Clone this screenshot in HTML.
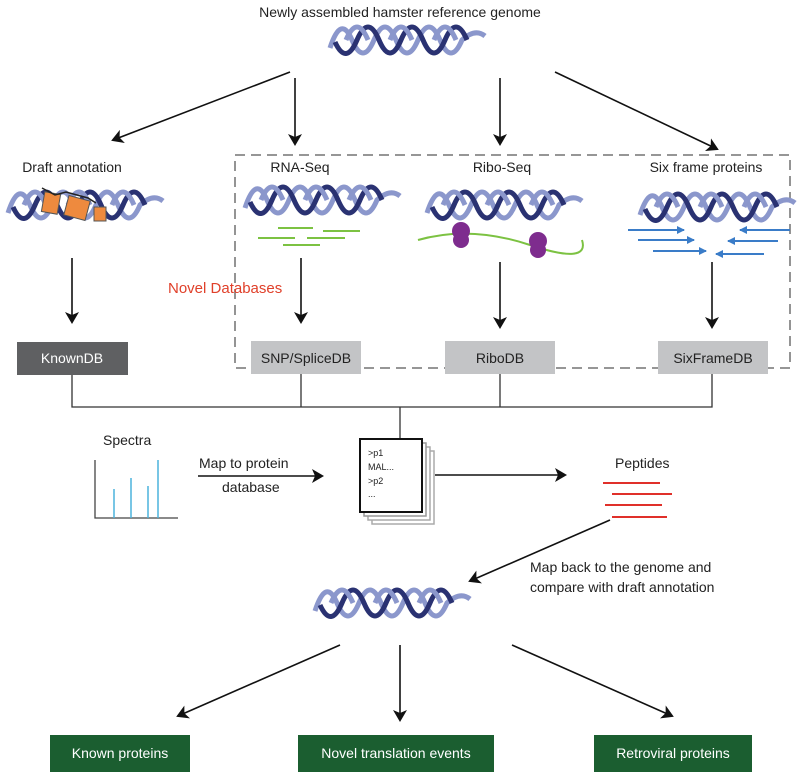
<!DOCTYPE html>
<html><head><meta charset="utf-8"><style>
body{margin:0;background:#fff;}
svg text{font-family:"Liberation Sans",sans-serif;}
</style></head><body>
<svg width="800" height="774" viewBox="0 0 800 774" xmlns="http://www.w3.org/2000/svg">
<defs>
<marker id="ah" markerWidth="12" markerHeight="14" refX="10" refY="7" orient="auto" markerUnits="userSpaceOnUse">
<path d="M0,0 L12,7 L0,14 L3,7 z" fill="#111"/></marker>
<marker id="bh" markerWidth="8" markerHeight="8" refX="7" refY="4" orient="auto" markerUnits="userSpaceOnUse">
<path d="M0,0 L8,4 L0,8 z" fill="#3a7cc8"/></marker>
<g id="hx">
<path d="M0,8 Q11,-26 22,0 T44,0 T66,0 T88,0 T110,0 T132,0 Q145,-12 155,-4" fill="none" stroke="#8b97cc" stroke-width="5"/>
<path d="M5,2 Q16,26 27,0 T49,0 T71,0 T93,0 T115,0 T137,0" fill="none" stroke="#2a3272" stroke-width="5"/>
<path d="M16,0 Q27,-26 38,0" fill="none" stroke="#8b97cc" stroke-width="5"/>
<path d="M60,0 Q71,-26 82,0" fill="none" stroke="#8b97cc" stroke-width="5"/>
<path d="M104,0 Q115,-26 126,0" fill="none" stroke="#8b97cc" stroke-width="5"/>
</g>
</defs>
<text x="400" y="17" font-size="14" text-anchor="middle" fill="#222">Newly assembled hamster reference genome</text>
<use href="#hx" x="330" y="40"/>
<g stroke="#111" stroke-width="1.6" fill="none" marker-end="url(#ah)">
<line x1="290" y1="72" x2="113" y2="140"/>
<line x1="295" y1="78" x2="295" y2="144"/>
<line x1="500" y1="78" x2="500" y2="144"/>
<line x1="555" y1="72" x2="717" y2="149"/>
<line x1="72" y1="258" x2="72" y2="322"/>
<line x1="301" y1="258" x2="301" y2="322"/>
<line x1="500" y1="262" x2="500" y2="327"/>
<line x1="712" y1="262" x2="712" y2="327"/>
<line x1="198" y1="476" x2="322" y2="476"/>
<line x1="435" y1="475" x2="565" y2="475"/>
<line x1="610" y1="520" x2="470" y2="581"/>
<line x1="340" y1="645" x2="178" y2="716"/>
<line x1="400" y1="645" x2="400" y2="720"/>
<line x1="512" y1="645" x2="672" y2="716"/>
</g>
<rect x="235" y="155" width="555" height="213" fill="none" stroke="#888" stroke-width="1.8" stroke-dasharray="10,6"/>
<g font-size="14" fill="#222" text-anchor="middle">
<text x="72" y="172">Draft annotation</text>
<text x="300" y="172">RNA-Seq</text>
<text x="502" y="172">Ribo-Seq</text>
<text x="706" y="172">Six frame proteins</text>
</g>
<use href="#hx" x="8" y="205"/>
<g fill="#ee8a3e" stroke="#555" stroke-width="1">
<rect x="43" y="193" width="16" height="20" transform="rotate(10 51 203)"/>
<rect x="66" y="198" width="22" height="20" transform="rotate(15 77 208)"/>
<rect x="94" y="207" width="12" height="14"/>
</g>
<path d="M42,188 L55,195 L66,192 L88,198 L96,203" fill="none" stroke="#222" stroke-width="1.5"/>
<use href="#hx" x="245" y="200"/>
<g stroke="#7cc242" stroke-width="2">
<line x1="278" y1="228" x2="313" y2="228"/><line x1="323" y1="231" x2="360" y2="231"/>
<line x1="258" y1="238" x2="295" y2="238"/><line x1="307" y1="238" x2="345" y2="238"/>
<line x1="283" y1="245" x2="320" y2="245"/>
</g>
<use href="#hx" x="427" y="205"/>
<path d="M418,240 Q470,225 530,245 T582,240" fill="none" stroke="#7cc242" stroke-width="2"/>
<g fill="#7e2c8e"><circle cx="461" cy="231" r="9"/><circle cx="461" cy="240" r="8"/><circle cx="538" cy="241" r="9"/><circle cx="538" cy="250" r="8"/></g>
<use href="#hx" x="640" y="207"/>
<g stroke="#3a7cc8" stroke-width="2" marker-end="url(#bh)">
<line x1="628" y1="230" x2="684" y2="230"/><line x1="638" y1="240" x2="694" y2="240"/><line x1="653" y1="251" x2="706" y2="251"/>
<line x1="790" y1="230" x2="740" y2="230"/><line x1="778" y1="241" x2="728" y2="241"/><line x1="764" y1="254" x2="716" y2="254"/>
</g>
<text x="168" y="293" font-size="15" fill="#e0402a">Novel Databases</text>
<rect x="17" y="342" width="111" height="33" fill="#5f6062"/>
<rect x="251" y="341" width="110" height="33" fill="#c3c4c6"/>
<rect x="445" y="341" width="110" height="33" fill="#c3c4c6"/>
<rect x="658" y="341" width="110" height="33" fill="#c3c4c6"/>
<g font-size="14" text-anchor="middle">
<text x="72" y="363" fill="#fff">KnownDB</text>
<text x="306" y="363" fill="#222">SNP/SpliceDB</text>
<text x="500" y="363" fill="#222">RiboDB</text>
<text x="713" y="363" fill="#222">SixFrameDB</text>
</g>
<g stroke="#333" stroke-width="1.3" fill="none">
<path d="M72,375 V407 H712 V374 M301,374 V407 M500,374 V407 M400,407 V440"/>
</g>
<text x="103" y="445" font-size="14" fill="#222">Spectra</text>
<path d="M95,460 V518 H178" fill="none" stroke="#444" stroke-width="1.3"/>
<g stroke="#4ab3dc" stroke-width="1.5"><line x1="114" y1="489" x2="114" y2="518"/><line x1="131" y1="478" x2="131" y2="518"/><line x1="148" y1="486" x2="148" y2="518"/><line x1="158" y1="460" x2="158" y2="518"/></g>
<text x="199" y="468" font-size="14" fill="#222">Map to protein</text>
<text x="222" y="492" font-size="14" fill="#222">database</text>
<rect x="372" y="451" width="62" height="73" fill="#fff" stroke="#aaa" stroke-width="1.5"/>
<rect x="368" y="447" width="62" height="73" fill="#fff" stroke="#aaa" stroke-width="1.5"/>
<rect x="364" y="443" width="62" height="73" fill="#fff" stroke="#999" stroke-width="1.5"/>
<rect x="360" y="439" width="62" height="73" fill="#fff" stroke="#111" stroke-width="2"/>
<g font-size="9" fill="#222"><text x="368" y="456">&gt;p1</text><text x="368" y="470">MAL...</text><text x="368" y="484">&gt;p2</text><text x="368" y="497">...</text></g>
<text x="615" y="468" font-size="14" fill="#222">Peptides</text>
<g stroke="#e0302a" stroke-width="2"><line x1="603" y1="483" x2="660" y2="483"/><line x1="612" y1="494" x2="672" y2="494"/><line x1="605" y1="505" x2="662" y2="505"/><line x1="612" y1="517" x2="667" y2="517"/></g>
<text x="530" y="572" font-size="14" fill="#222">Map back to the genome and</text>
<text x="530" y="592" font-size="14" fill="#222">compare with draft annotation</text>
<use href="#hx" x="315" y="603"/>
<rect x="50" y="735" width="140" height="37" fill="#1b5e30"/>
<rect x="298" y="735" width="196" height="37" fill="#1b5e30"/>
<rect x="594" y="735" width="158" height="37" fill="#1b5e30"/>
<g font-size="14" fill="#fff" text-anchor="middle">
<text x="120" y="758">Known proteins</text>
<text x="396" y="758">Novel translation events</text>
<text x="673" y="758">Retroviral proteins</text>
</g>
</svg>
</body></html>
